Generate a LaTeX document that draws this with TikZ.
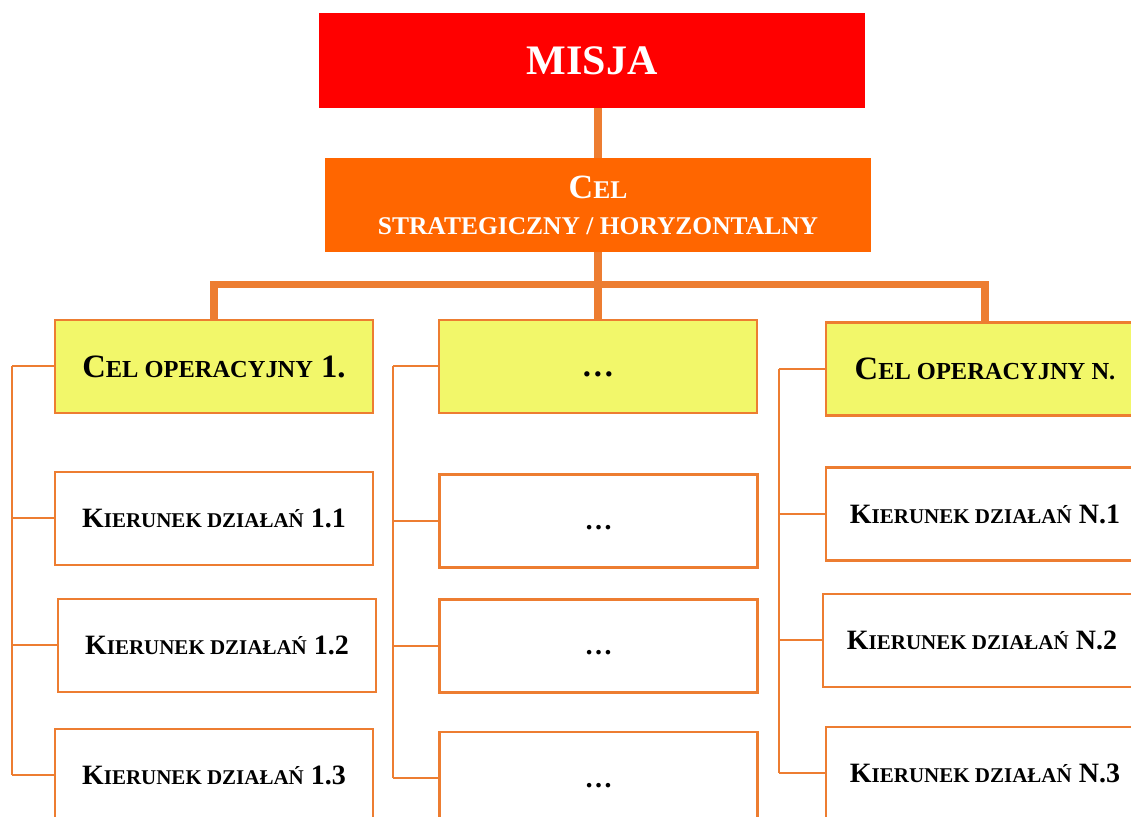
\documentclass[tikz,border=0pt]{standalone}
\usepackage{fontspec}
\setmainfont{Liberation Serif}
\makeatletter
\newcommand\kap[1]{{\fontsize{\dimexpr\f@size pt*3/4\relax}{0pt}\selectfont #1}}
\makeatother
\definecolor{misja red}{HTML}{FF0000}
\definecolor{cel orange}{HTML}{FF6600}
\definecolor{line orange}{HTML}{ED7D31}
\definecolor{op yellow}{HTML}{F2F76A}
\tikzset{
  misjabox/.style={fill=misja red, text=white, minimum width=273pt, minimum height=47.5pt,
    inner sep=0pt, font=\bfseries\fontsize{21}{24}\selectfont},
  celbox/.style={fill=cel orange, text=white, minimum width=273pt, minimum height=47pt,
    inner sep=0pt, align=center, font=\bfseries\fontsize{17}{18}\selectfont},
  opbox/.style={fill=op yellow, draw=line orange, line width=1.2pt, minimum width=159pt,
    minimum height=46.5pt, inner sep=0pt, font=\bfseries\fontsize{16.3}{18}\selectfont},
  kbox/.style={fill=white, draw=line orange, line width=1.2pt, minimum width=159pt,
    minimum height=46.5pt, inner sep=0pt, font=\bfseries\fontsize{14}{16}\selectfont}
  }
\tikzstyle{trunk} = [draw=line orange, line width=3.75pt]
\tikzstyle{tie} = [draw=line orange, line width=1pt]

\begin{document}
\begin{tikzpicture}[x=0.5pt, y=-0.5pt]
  \clip (0,0) rectangle (1131,817);

  \node[misjabox] (misja) at (592,60.5) {MISJA};
  \node[celbox] (cel) at (598,205) {C\kap{EL}\\\kap{STRATEGICZNY / HORYZONTALNY}};

  \node[opbox] (opL) at (214,366.5) {C\kap{EL OPERACYJNY} 1.};
  \node[opbox] (opM) at (598,366.5) {\vphantom{K}\dots};
  \node[opbox] (opR) at (985,369) {C\kap{EL OPERACYJNY N.}};

  \foreach \pos/\name/\txt in {{(214,518.5)/k11/1.1}, {(217,645.5)/k12/1.2}, {(214,775.5)/k13/1.3},
      {(985,514)/n1/N.1}, {(982,640.5)/n2/N.2}, {(985,773.5)/n3/N.3}} {
    \node[kbox] (\name) at \pos {K\kap{IERUNEK DZIAŁAŃ} \txt};
  }
  \foreach \pos/\name in {{(598.5,521)/m1}, {(598.5,646)/m2}, {(598.5,778.5)/m3}} {
    \node[kbox] (\name) at \pos {\vphantom{K}\dots};
  }

  % trunk
  \coordinate (bar) at (598,284.5);
  \path[trunk] (cel.north |- misja.south) -- (cel.north);
  \path[trunk] (cel.south) -- (opM.north);
  \path[trunk] (opL.north) |- (bar) -| (opR.north);

  % brackets
  \coordinate (bL) at (12,0);
  \coordinate (bM) at (393,0);
  \coordinate (bR) at (779,0);
  \path[tie] (opL.west -| bL) -- (k13.west -| bL);
  \path[tie] (opM.west -| bM) -- (m3.west -| bM);
  \path[tie] (opR.west -| bR) -- (n3.west -| bR);
  \foreach \name/\b in {opL/bL, k11/bL, k12/bL, k13/bL, opM/bM, m1/bM, m2/bM, m3/bM,
      opR/bR, n1/bR, n2/bR, n3/bR} {
    \path[tie] (\name.west -| \b) -- (\name.west);
  }
\end{tikzpicture}
\end{document}
